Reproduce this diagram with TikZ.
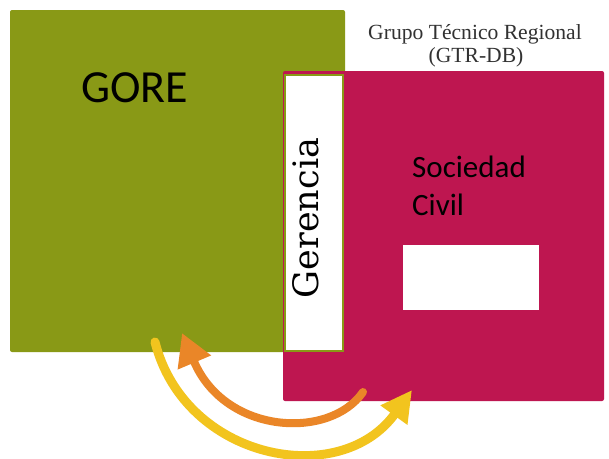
\documentclass[tikz,border=0pt]{standalone}
\usepackage{fontspec}
\newfontfamily\carlito{Carlito}
\newfontfamily\libserif{Liberation Serif}
\newfontfamily\djserif{DejaVu Serif}
\usetikzlibrary{arrows.meta}
\definecolor{goregreen}{RGB}{137,153,22}
\definecolor{civmag}{RGB}{190,22,80}
\definecolor{arryel}{RGB}{242,196,30}
\definecolor{arrora}{RGB}{234,134,40}
\definecolor{titlegray}{RGB}{50,50,50}
\tikzset{
  block/.style={inner sep=0pt, outer sep=0pt, rounded corners=2pt},
  flowarrow/.style={line width=#1, line cap=round},
}
\begin{document}
\begin{tikzpicture}[x=1pt,y=-1pt]
\useasboundingbox (0,0) rectangle (609,458);
\fill[white] (0,0) rectangle (609,458);
% main blocks
\fill[goregreen, block] (10,10) rectangle (345,352);
\fill[civmag, block] (283,71) rectangle (604,401);
\draw[fill=white, draw=goregreen, line width=1.5pt] (285,75) rectangle (343,351);
\fill[white] (403,245) rectangle (539,310);
% texts
\node[anchor=base, text=titlegray, font=\libserif\fontsize{21.6}{24}\selectfont, inner sep=0pt] (gtr1) at (475,39) {Grupo Técnico Regional};
\node[anchor=base, text=titlegray, font=\libserif\fontsize{21.6}{24}\selectfont, inner sep=0pt] (gtr2) at (476,62) {(GTR-DB)};
\node[anchor=base west, font=\carlito\fontsize{46}{46}\selectfont, inner sep=0pt] (gore) at (81,102) {GORE};
\node[anchor=base west, font=\carlito\fontsize{31}{31}\selectfont, inner sep=0pt] (soc) at (412,177) {Sociedad};
\node[anchor=base west, font=\carlito\fontsize{31}{31}\selectfont, inner sep=0pt] (civ) at (412,215) {Civil};
\node[rotate=90, font=\djserif\fontsize{35}{35}\selectfont, inner sep=0pt] (ger) at (306,218) {Gerencia};
% arrows
\coordinate (ys) at (155,342);
\coordinate (ye) at (412,390);
\coordinate (os) at (363,392);
\coordinate (oe) at (182,333);
\draw[arrora, flowarrow=8pt, -{Triangle[length=32pt,width=34pt]}]
  (os) .. controls (330,440) and (225,435) .. (oe);
\draw[arryel, flowarrow=9pt, -{Triangle[length=31pt,width=31pt]}]
  (ys) .. controls (185,460) and (340,490) .. (ye);
\end{tikzpicture}
\end{document}
